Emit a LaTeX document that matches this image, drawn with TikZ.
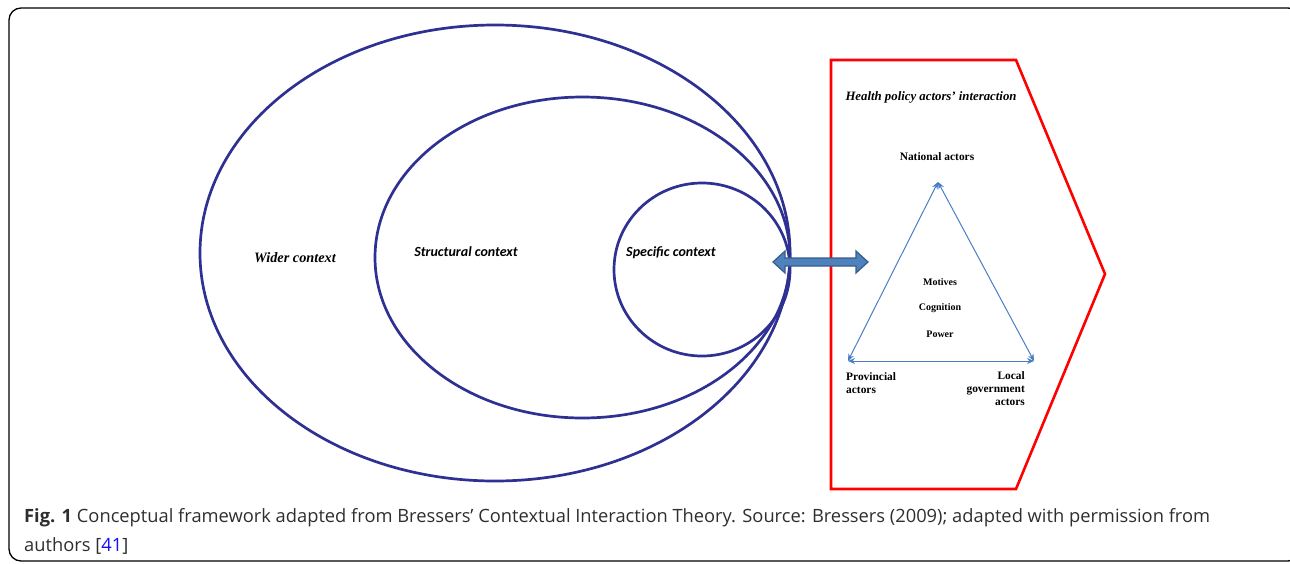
\documentclass[tikz,border=0pt]{standalone}
\usepackage{fontspec}
\setmainfont{Liberation Serif}
\newfontfamily\calib{Carlito}
\newfontfamily\capfont{Open Sans}
\usetikzlibrary{arrows.meta}
\definecolor{ellblue}{HTML}{2E3192}
\definecolor{arrfill}{HTML}{4F81BD}
\definecolor{arrline}{HTML}{385D8A}
\definecolor{trib}{HTML}{4A7EC4}
\definecolor{linkblue}{HTML}{1A0DFF}
\tikzset{
  ell/.style={draw=ellblue,line width=2.7pt},
  ctx/.style={font=\fontsize{14.3}{16}\selectfont\bfseries\itshape,inner sep=0pt},
  ctxs/.style={font=\calib\fontsize{14}{16}\selectfont\bfseries\itshape,inner sep=0pt},
  lbl/.style={font=\fontsize{11.4}{13}\selectfont\bfseries,inner sep=0pt},
  inner/.style={font=\fontsize{10}{12}\selectfont\bfseries,inner sep=0pt},
  tri/.style={draw=trib,line width=1pt,{Stealth[length=7pt,width=6pt]}-{Stealth[length=7pt,width=6pt]}},
}
\begin{document}
\begin{tikzpicture}[x=1pt,y=-1pt]
\useasboundingbox (0,0) rectangle (1290,563);
% frame
\draw[line width=1.3pt,rounded corners=12pt] (9,561) -- (9,8) -- (1300,8) -- (1300,561) -- cycle;
% ellipses
\draw[ell] (495,253) ellipse [x radius=295,y radius=228];
\draw[ell] (582.5,257.5) ellipse [x radius=207.5,y radius=160.5];
\draw[ell] (702,269.5) ellipse [x radius=88,y radius=86.5];
\node[ctx] (wc) at (295,258) {Wider context};
\node[ctxs] (sc) at (466,252) {Structural context};
\node[ctxs] (spc) at (671,253) {Specific context};
% red shape
\draw[red,line width=2.6pt] (831,60) -- (1016,60) -- (1105,274) -- (1016,489) -- (831,489) -- cycle;
% double arrow
\draw[draw=arrline,fill=arrfill,line width=1.2pt,line join=miter]
  (773,262) -- (785,251) -- (785,258) -- (856,258) -- (856,251) -- (868,262)
  -- (856,273) -- (856,266) -- (785,266) -- (785,273) -- cycle;
% texts in hex
\node[font=\fontsize{12.8}{15}\selectfont\bfseries\itshape,inner sep=0pt] (hp) at (931,97) {Health policy actors’ interaction};
\node[lbl] (na) at (937,157) {National actors};
\node[inner] (mo) at (940,282) {Motives};
\node[inner] (co) at (940,308) {Cognition};
\node[inner] (po) at (940,334) {Power};
\node[lbl,align=left,anchor=north west] (pa) at (846,372) {Provincial\\actors};
\node[lbl,align=right,anchor=north east] (la) at (1025,371) {Local\\government\\actors};
% triangle
\coordinate (A) at (938,182);
\coordinate (B) at (848,361);
\coordinate (C) at (1034,361);
\draw[tri] (A) -- (B);
\draw[tri] (A) -- (C);
\draw[tri] (B) -- (C);
% caption
\node[anchor=west,inner sep=0pt,font=\capfont\fontsize{18.3}{29}\selectfont,text=black!82,align=left] (cap) at (24,531) {\textbf{Fig. 1} Conceptual framework adapted from Bressers’ Contextual Interaction Theory. Source: Bressers (2009); adapted with permission from\\authors [\textcolor{linkblue}{41}]};
\end{tikzpicture}
\end{document}
